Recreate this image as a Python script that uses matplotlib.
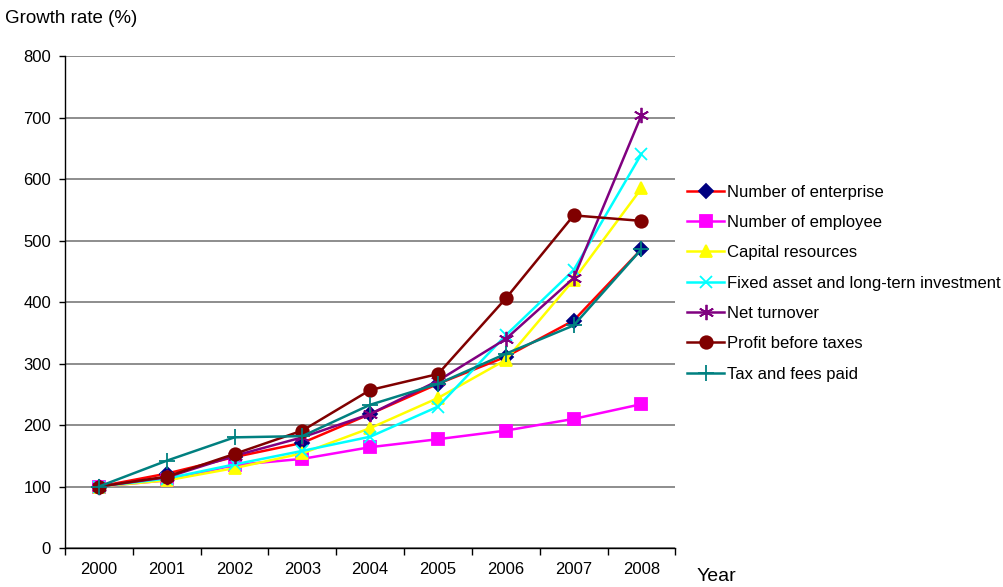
import matplotlib.pyplot as plt
import numpy as np

plt.rcParams['font.family'] = ['Liberation Sans', 'DejaVu Sans']

years = ['2000', '2001', '2002', '2003', '2004', '2005', '2006', '2007', '2008']

enterprise = [100, 121, 148, 171, 218, 267, 311, 370, 486]
employee = [100, 110, 135, 145, 164, 177, 191, 210, 234]
capital = [100, 110, 130, 154, 195, 244, 306, 436, 585]
fixed_asset = [100, 113, 136, 158, 181, 230, 346, 452, 641]
net_turnover = [100, 115, 150, 180, 218, 272, 340, 439, 704]
profit = [100, 116, 153, 191, 257, 283, 406, 541, 532]
tax_fees = [100, 142, 180, 182, 233, 267, 316, 362, 486]

series = [
    ('Number of enterprise', enterprise, '#FF0000', 'D', '#000080', 7),
    ('Number of employee', employee, '#FF00FF', 's', '#FF00FF', 8),
    ('Capital resources', capital, '#FFFF00', '^', '#FFFF00', 9),
    ('Fixed asset and long-tern investment', fixed_asset, '#00FFFF', 'x', '#00FFFF', 9),
    ('Net turnover', net_turnover, '#800080', (6, 2, 0), '#800080', 11),
    ('Profit before taxes', profit, '#800000', 'o', '#800000', 9),
    ('Tax and fees paid', tax_fees, '#008080', '+', '#008080', 11),
]

fig = plt.figure(figsize=(10.04, 5.87), dpi=100)
ax = fig.add_axes([0.0647, 0.0664, 0.608, 0.838])

x = np.arange(len(years))
for label, vals, color, marker, mcolor, ms in series:
    ax.plot(x, vals, color=color, lw=1.8, marker=marker, markersize=ms,
            markerfacecolor=mcolor, markeredgecolor=mcolor, markeredgewidth=1.3,
            label=label, zorder=3)

ax.set_xlim(-0.5, len(years) - 0.5)
ax.set_ylim(0, 800)
ax.set_yticks(range(0, 801, 100))
ax.yaxis.grid(True, color='#7a7a7a', lw=1.2)
ax.set_axisbelow(True)

# category boundaries get the tick marks, labels sit in the middle
ax.set_xticks(np.arange(-0.5, len(years), 1.0))
ax.set_xticklabels([])
ax.set_xticks(x, minor=True)
ax.set_xticklabels(years, minor=True)
ax.tick_params(axis='x', which='major', length=5, width=1, color='black')
ax.tick_params(axis='x', which='minor', length=0, pad=10, labelsize=12)
ax.tick_params(axis='y', length=4, width=1, labelsize=12, pad=6)

for side in ('top', 'right'):
    ax.spines[side].set_visible(False)
for side in ('left', 'bottom'):
    ax.spines[side].set_color('black')
    ax.spines[side].set_linewidth(1)

fig.text(0.005, 0.968, 'Growth rate (%)', fontsize=13.5, va='center', ha='left')
fig.text(0.694, 0.018, 'Year', fontsize=14, va='center', ha='left')

fig.legend(loc='upper left', bbox_to_anchor=(0.678, 0.697), frameon=False,
           fontsize=12, handlelength=2.2, handletextpad=0.15, labelspacing=0.92,
           borderaxespad=0)

fig.savefig('out.png', dpi=100)
